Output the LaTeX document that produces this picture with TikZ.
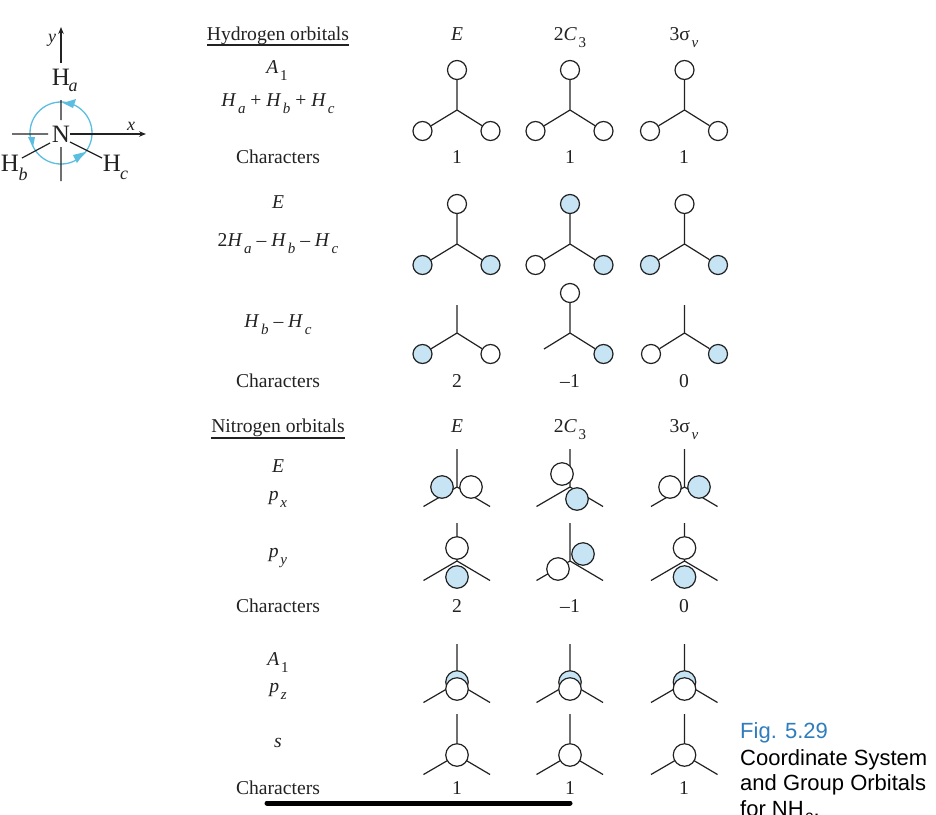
\documentclass[tikz,border=0pt]{standalone}
\usepackage{fontspec}
\setmainfont{Liberation Serif}
\newfontfamily\capfont{Liberation Sans}
\usetikzlibrary{arrows.meta}
\definecolor{orbblue}{HTML}{C6E4F4}
\definecolor{ink}{HTML}{222222}
\definecolor{cyanarc}{HTML}{5BBEE0}
\definecolor{figblue}{HTML}{2F7DBD}
\newcommand{\lo}[1]{\kern1.6pt\raisebox{-0.36em}{\fontsize{15}{15}\selectfont #1}}
\newcommand{\Hs}[1]{\textit{H}\lo{\textit{#1}}}
\newcommand{\rowlbl}[4]{\node[txt] (#1) at (#2,#3) {#4};}
\tikzset{
 txt/.style={anchor=base,inner sep=0pt,font=\fontsize{19.6}{21}\selectfont,text=ink},
 big/.style={anchor=center,inner sep=0pt,font=\fontsize{25}{25}\selectfont,text=ink},
 sm/.style={anchor=center,inner sep=0pt,font=\fontsize{18}{18}\selectfont\itshape,text=ink},
 bond/.style={draw=ink,line width=1.2pt},
 head/.style={draw=ink,line width=1.3pt},
 wo/.style={circle,draw=ink,line width=1.2pt,fill=white,minimum size=19pt,inner sep=0pt},
 bo/.style={wo,fill=orbblue},
 wn/.style={wo,minimum size=22.5pt},
 bn/.style={bo,minimum size=22.5pt},
 captxt/.style={anchor=base west,inner sep=0pt,font=\capfont\fontsize{22}{24}\selectfont,text=black}
}
% hydrogen-row Y: id, cx, cy, three circle styles
\newcommand{\Ymol}[6]{
 \coordinate (#1c) at (#2,#3);
 \node[#4] (#1t) at (#2,#3-40) {};
 \node[#5] (#1l) at (#2-34.5,#3+21) {};
 \node[#6] (#1r) at (#2+33.5,#3+21) {};
 \draw[bond] (#1c)--(#1t) (#1c)--(#1l) (#1c)--(#1r);
}
% bare frame for nitrogen rows: id, cx, cy, top length
\newcommand{\Nframe}[4]{
 \coordinate (#1c) at (#2,#3);
 \coordinate (#1t) at (#2,#3-#4);
 \coordinate (#1l) at (#2-33.5,#3+19.5);
 \coordinate (#1r) at (#2+33,#3+19.5);
 \draw[bond] (#1c)--(#1t) (#1c)--(#1l) (#1c)--(#1r);
}
\begin{document}
\begin{tikzpicture}[x=1pt,y=-1pt]
\useasboundingbox (0,0) rectangle (936,814);
\fill[white] (0,0) rectangle (936,814);

%% coordinate system
\node[big] (N) at (61,134) {N};
\node[big] (Ha) at (61,77) {H};
\node[sm] (Hasub) at (73,87) {a};
\node[big] (Hb) at (10,163) {H};
\node[sm] (Hbsub) at (23,174) {b};
\node[big] (Hc) at (112,163) {H};
\node[sm] (Hcsub) at (124,175) {c};
\node[sm] (ylab) at (52,40) {y};
\node[sm] (xlab) at (131,126) {x};
\coordinate (ytip) at (61,27);
\coordinate (xtip) at (146,134);
\coordinate (xleft) at (12,134);
\coordinate (ybot) at (61,181);
\coordinate (Nsw) at (50,143);
\coordinate (Nse) at (70,142);
\coordinate (Nn) at (61,120);
\coordinate (Ns) at (61,147);
\coordinate (Ne) at (70,134);
\coordinate (Nw) at (48,134);
\coordinate (Hbe) at (22,158);
\coordinate (Hcw) at (102,158);
\coordinate (Has) at (61,100);
\coordinate (Han) at (61,63);
\draw[cyanarc,line width=1.3pt] (61,133) circle[radius=31];
\draw[bond] (Has)--(Nn) (Ns)--(ybot) (xleft)--(Nw) (Nsw)--(Hbe) (Nse)--(Hcw);
\draw[bond,-{Stealth[length=7pt,width=5.5pt]}] (Han)--(ytip);
\draw[bond,-{Stealth[length=7pt,width=5.5pt]}] (Ne)--(xtip);
\fill[cyanarc] (63,103) -- (76,99) -- (73,108) -- cycle;
\fill[cyanarc] (33,147) -- (28,137) -- (35,137) -- cycle;
\fill[cyanarc] (85,152) -- (73,155) -- (77,163) -- cycle;

%% Hydrogen orbitals block
\rowlbl{hh}{278}{40}{Hydrogen orbitals}
\draw[head] (207,45)--(349,45);
\rowlbl{h1}{457}{40}{\textit{E}}
\rowlbl{h2}{570}{40}{2\textit{C}\lo{3}}
\rowlbl{h3}{684}{40}{3σ\lo{\textit{v}}}
\rowlbl{a1}{277}{73}{\textit{A}\lo{1}}
\rowlbl{sum}{278}{106}{\Hs{a} + \Hs{b} + \Hs{c}}
\rowlbl{ch1}{278}{163}{Characters}
\rowlbl{n11}{457}{163}{1}
\rowlbl{n12}{570}{163}{1}
\rowlbl{n13}{684}{163}{1}
\Ymol{p}{457}{110}{wo}{wo}{wo}
\Ymol{q}{570}{110}{wo}{wo}{wo}
\Ymol{r}{684.5}{110}{wo}{wo}{wo}

\rowlbl{e1}{278}{208}{\textit{E}}
\rowlbl{two}{278}{246}{2\Hs{a} – \Hs{b} – \Hs{c}}
\Ymol{s}{457}{244}{wo}{bo}{bo}
\Ymol{t}{570}{244}{bo}{wo}{bo}
\Ymol{u}{684.5}{244}{wo}{bo}{bo}

\rowlbl{dif}{278}{327}{\Hs{b} – \Hs{c}}
% row 3 of hydrogen
\coordinate (vc) at (457,333);
\coordinate (vt) at (457,305);
\node[bo] (vl) at (422.5,354) {};
\node[wo] (vr) at (490.5,354) {};
\draw[bond] (vc)--(vt) (vc)--(vl) (vc)--(vr);
\coordinate (wc) at (570,333);
\node[wo] (wt) at (570,293) {};
\coordinate (wl) at (544,349);
\node[bo] (wr) at (603.5,354) {};
\draw[bond] (wc)--(wt) (wc)--(wl) (wc)--(wr);
\coordinate (xc) at (684.5,333);
\coordinate (xt) at (684.5,305);
\node[wo] (xl) at (651,354) {};
\node[bo] (xr) at (718,354) {};
\draw[bond] (xc)--(xt) (xc)--(xl) (xc)--(xr);
\rowlbl{ch2}{278}{387}{Characters}
\rowlbl{n21}{457}{387}{2}
\rowlbl{n22}{570}{387}{–1}
\rowlbl{n23}{684}{387}{0}

%% Nitrogen orbitals block
\rowlbl{nh}{278}{432}{Nitrogen orbitals}
\draw[head] (211,438)--(345,438);
\rowlbl{k1}{457}{432}{\textit{E}}
\rowlbl{k2}{570}{432}{2\textit{C}\lo{3}}
\rowlbl{k3}{684}{432}{3σ\lo{\textit{v}}}
\rowlbl{e2}{278}{472}{\textit{E}}
\rowlbl{px}{278}{500}{\textit{p}\lo{\textit{x}}}
\Nframe{pa}{457}{487}{38}
\node[bn] (pa1) at (442,487) {};
\node[wn] (pa2) at (471,487) {};
\Nframe{pb}{570}{487}{38}
\node[wn] (pb1) at (562,474) {};
\node[bn] (pb2) at (577,499) {};
\Nframe{pc}{684.5}{487}{38}
\node[wn] (pc1) at (670,487) {};
\node[bn] (pc2) at (699,487) {};

\rowlbl{py}{278}{557}{\textit{p}\lo{\textit{y}}}
\Nframe{qa}{457}{561}{38}
\node[wn] (qa1) at (457,548) {};
\node[bn] (qa2) at (457,577) {};
\Nframe{qb}{570}{561}{38}
\node[wn] (qb1) at (558,569) {};
\node[bn] (qb2) at (583,554) {};
\Nframe{qc}{684.5}{561}{38}
\node[wn] (qc1) at (684.5,548) {};
\node[bn] (qc2) at (684.5,577) {};
\rowlbl{ch3}{278}{612}{Characters}
\rowlbl{n31}{457}{612}{2}
\rowlbl{n32}{570}{612}{–1}
\rowlbl{n33}{684}{612}{0}

\rowlbl{a2}{278}{665}{\textit{A}\lo{1}}
\rowlbl{pz}{278}{692}{\textit{p}\lo{\textit{z}}}
\Nframe{ra}{457}{683}{39}
\node[bn] (ra1) at (457,682) {};
\node[wn] (ra2) at (457,689) {};
\Nframe{rb}{570}{683}{39}
\node[bn] (rb1) at (570,682) {};
\node[wn] (rb2) at (570,689) {};
\Nframe{rc}{684.5}{683}{39}
\node[bn] (rc1) at (684.5,682) {};
\node[wn] (rc2) at (684.5,689) {};

\rowlbl{ss}{278}{747}{\textit{s}}
\Nframe{sa}{457}{755}{41}
\node[wn] (sa1) at (457,755) {};
\Nframe{sb}{570}{755}{41}
\node[wn] (sb1) at (570,755) {};
\Nframe{sc}{684.5}{755}{41}
\node[wn] (sc1) at (684.5,755) {};
\rowlbl{ch4}{278}{794}{Characters}
\rowlbl{n41}{457}{794}{1}
\rowlbl{n42}{570}{794}{1}
\rowlbl{n43}{684}{794}{1}

%% caption
\node[captxt,text=figblue] (fig) at (740,738) {Fig. 5.29};
\node[captxt] (c1) at (740,765) {Coordinate System};
\node[captxt] (c2) at (740,790) {and Group Orbitals};
\node[captxt] (c3) at (740,816) {for NH\lo{3}.};

%% bar
\coordinate (barl) at (267,803);
\coordinate (barr) at (570,803);
\draw[black,line width=5pt,line cap=round] (barl)--(barr);
\end{tikzpicture}
\end{document}
